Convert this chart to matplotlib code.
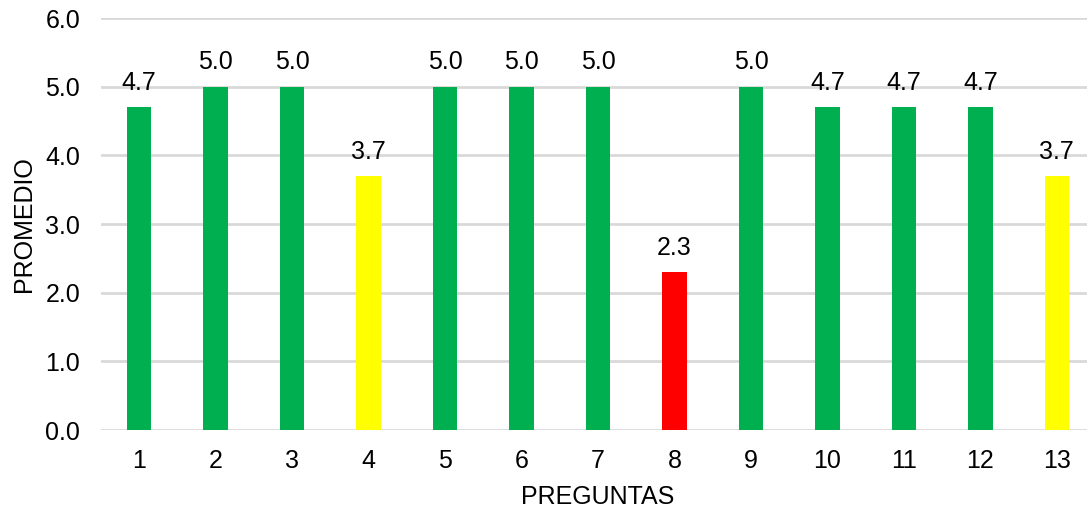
import matplotlib
matplotlib.use("Agg")
import matplotlib.pyplot as plt

plt.rcParams['font.family'] = ['Liberation Sans', 'DejaVu Sans']

preguntas = ['1', '2', '3', '4', '5', '6', '7', '8', '9', '10', '11', '12', '13']
promedio = [4.7, 5.0, 5.0, 3.7, 5.0, 5.0, 5.0, 2.3, 5.0, 4.7, 4.7, 4.7, 3.7]
colores = ['#00B050', '#00B050', '#00B050', '#FFFF00', '#00B050', '#00B050',
           '#00B050', '#FF0000', '#00B050', '#00B050', '#00B050', '#00B050', '#FFFF00']
yticks = [0.0, 1.0, 2.0, 3.0, 4.0, 5.0, 6.0]

FS = 18
W, H = 1087, 508
fig = plt.figure(figsize=(W / 100, H / 100), dpi=100)
ax = fig.add_axes([101 / W, 1 - 430 / H, (1095 - 101) / W, (430 - 18) / H])

x = list(range(1, len(preguntas) + 1))
ax.bar(x, promedio, width=0.32, color=colores, zorder=3)

for xi, v in zip(x, promedio):
    ax.annotate(f'{v:.1f}', (xi, v), xytext=(0, 12.5), textcoords='offset points',
                ha='center', va='baseline', fontsize=FS, color='#000000')

ax.set_xlim(0.5, 13.5)
ax.set_ylim(0, 6)
ax.set_xticks(x)
ax.set_xticklabels(preguntas)
ax.set_yticks(yticks)
ax.set_yticklabels([f'{t:.1f}' for t in yticks])
ax.tick_params(axis='both', length=0, labelsize=FS, colors='#000000')
ax.tick_params(axis='x', pad=14)
ax.tick_params(axis='y', pad=15)
ax.yaxis.grid(True, color='#D9D9D9', linewidth=2)
ax.set_axisbelow(True)
for s in ax.spines.values():
    s.set_visible(False)

ax.set_xlabel('PREGUNTAS', fontsize=FS, labelpad=8)
ax.set_ylabel('PROMEDIO', fontsize=FS, labelpad=7)

fig.savefig('out.png', dpi=100)
